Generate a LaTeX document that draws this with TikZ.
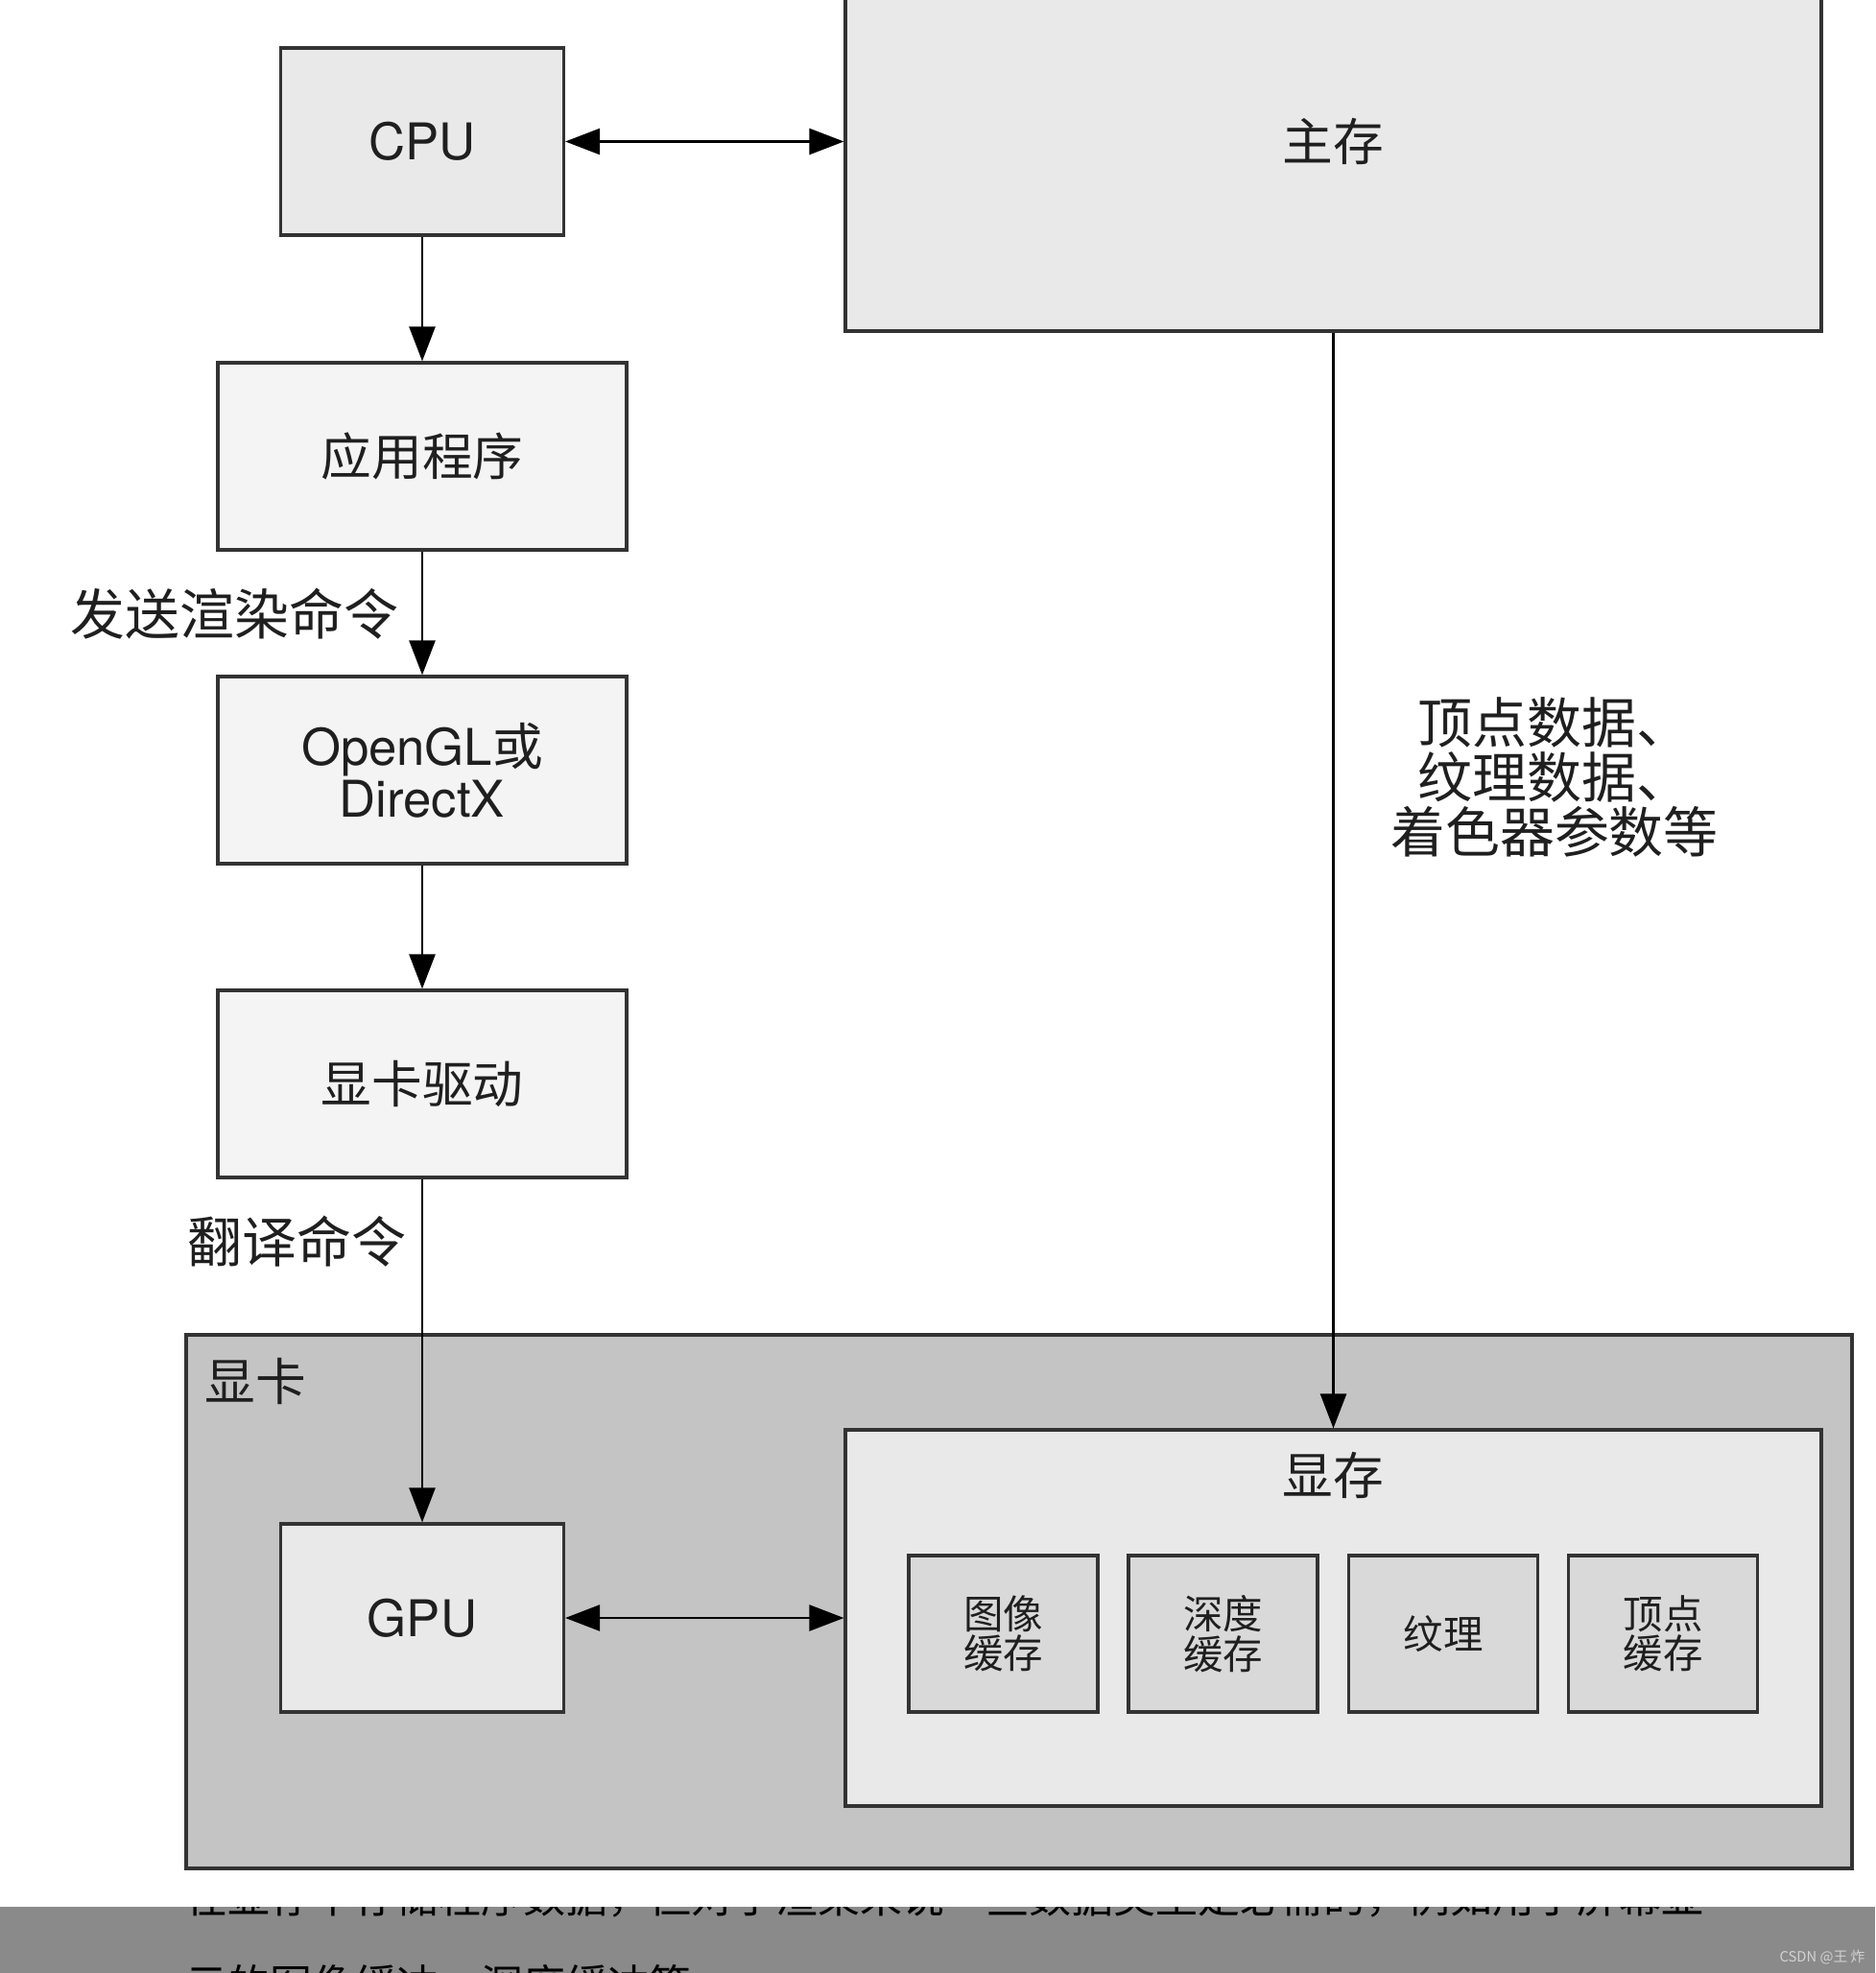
\documentclass[tikz,border=0pt]{standalone}
\usepackage{fontspec}
\setmainfont{TeX Gyre Heros}
\newfontfamily\cjk{Noto Sans CJK SC}
\usetikzlibrary{arrows.meta,positioning}
\definecolor{edgegray}{HTML}{333333}
\definecolor{hwgray}{HTML}{E9E9E9}
\definecolor{swgray}{HTML}{F4F4F4}
\definecolor{cardgray}{HTML}{C4C4C4}
\definecolor{bufgray}{HTML}{D9D9D9}
\definecolor{bandgray}{HTML}{8A8A8A}
\definecolor{markgray}{HTML}{D2D2D2}
\tikzset{
  unit/.style={rectangle,draw=edgegray,line width=0.9pt,text=black!88,
    font=\fontsize{15}{15.4}\selectfont,align=center,inner sep=0pt},
  hw/.style={unit,fill=hwgray},
  sw/.style={unit,fill=swgray,minimum width=4.26cm,minimum height=1.95cm},
  buf/.style={unit,fill=bufgray,minimum width=1.97cm,minimum height=1.63cm,
    font=\cjk\fontsize{11.8}{11.8}\selectfont},
  flow/.style={line width=0.7pt,-{Triangle[length=3.6mm,width=2.7mm]}},
  both/.style={line width=0.7pt,{Triangle[length=3.6mm,width=2.7mm]}-{Triangle[length=3.6mm,width=2.7mm]}},
  note/.style={font=\cjk\fontsize{16.2}{16.2}\selectfont,text=black!88,align=center,inner sep=0pt}
}
\begin{document}
\begin{tikzpicture}
\clip(0,0)rectangle(19.54,-20.56);
\fill[white](0,0)rectangle(19.54,-20.56);
%host side
\node[hw,minimum width=2.95cm,minimum height=1.95cm](cpu)at(4.40,-1.475){CPU};
\node[hw,minimum width=10.17cm,minimum height=3.95cm](mainmem)at(13.895,-1.475){\cjk 主存};
\node[sw](app)at(4.40,-4.755){\cjk 应用程序};
\node[sw](api)at(4.40,-8.025){OpenGL{\cjk 或}\\DirectX};
\node[sw](driver)at(4.40,-11.295){\cjk 显卡驱动};
%graphics card
\node[hw,fill=cardgray,minimum width=17.36cm,minimum height=5.56cm](card)at(10.62,-16.69){};
\node[note,font=\cjk\fontsize{15}{15}\selectfont](cardlbl)at(2.665,-14.39){显卡};
\node[hw,minimum width=2.95cm,minimum height=1.96cm](gpu)at(4.40,-16.86){GPU};
\node[hw,minimum width=10.17cm,minimum height=3.92cm](vram)at(13.895,-16.86){};
\node[note,font=\cjk\fontsize{15}{15}\selectfont](vramlbl)at(13.895,-15.37){显存};
\node[buf](imgbuf)at(10.455,-17.025){图像\\缓存};
\node[buf](depthbuf)at(12.745,-17.025){深度\\缓存};
\node[buf](texbuf)at(15.04,-17.025){纹理};
\node[buf](vertbuf)at(17.33,-17.025){顶点\\缓存};
%connectors
\draw[both](cpu)--(mainmem.west|-cpu);
\draw[flow](cpu)--(app);
\draw[flow](app)--(api);
\draw[flow](api)--(driver);
\draw[flow](driver)--(gpu);
\draw[both](gpu)--(vram.west|-gpu);
\draw[flow](mainmem)--(vram);
%labels
\node[note](sendlbl)at(2.445,-6.40){发送渲染命令};
\node[note](translbl)at(3.095,-12.94){翻译命令};
\node[note](datalbl)at(16.20,-8.10){顶点数据、\\纹理数据、\\着色器参数等};
%cut-off caption strip
\begin{scope}
\clip(0,-19.87)rectangle(19.54,-20.56);
\fill[bandgray](0,-19.87)rectangle(19.54,-20.56);
\node[anchor=base west,inner sep=0pt,font=\cjk\fontsize{12.5}{12.5}\selectfont](cap1)at(1.93,-19.93){在显存中存储程序数据，但对于渲染来说一些数据类型是必需的，例如用于屏幕显};
\node[anchor=base west,inner sep=0pt,font=\cjk\fontsize{12.5}{12.5}\selectfont](cap2)at(1.93,-20.84){示的图像缓冲、深度缓冲等};
\node[text=markgray,inner sep=0pt,font=\cjk\fontsize{4.2}{4.2}\selectfont](mark)at(18.99,-20.40){CSDN @王 炸};
\end{scope}
\end{tikzpicture}
\end{document}
